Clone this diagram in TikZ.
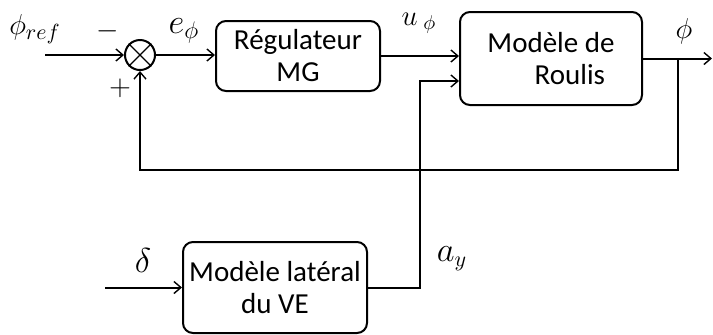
\documentclass[tikz,border=0pt]{standalone}
\usepackage{fontspec}
\setmainfont{Carlito}
\usetikzlibrary{arrows.meta}
\begin{document}
\begin{tikzpicture}[x=0.5pt,y=-0.5pt,
  line width=1pt,
  arr/.style={-{Straight Barb[length=3.5pt,width=6pt,line width=0.7pt]}},
  blk/.style={draw,rounded corners=5pt,align=center,inner sep=0pt,
    font=\fontsize{14.5}{16}\selectfont},
  lbl/.style={inner sep=0pt}]
\useasboundingbox (0,0) rectangle (713,334);
% blocks
\node[draw,circle,minimum size=15pt,inner sep=0pt] (sum) at (140,55) {};
\draw[line width=0.7pt] (sum.north west) -- (sum.south east) (sum.north east) -- (sum.south west);
\node[blk,minimum width=82pt,minimum height=35pt] (reg) at (298,56) {Régulateur\\MG};
\node[blk,minimum width=91pt,minimum height=46.5pt] (roul) at (551,58.5) {Modèle de\\\hspace*{1.3em}Roulis};
\node[blk,minimum width=92pt,minimum height=45.5pt] (lat) at (275,287.5) {Modèle latéral\\du VE};
% coordinates
\coordinate (in) at (45,55);
\coordinate (din) at (105,287.5);
\coordinate (out) at (712,58.5);
\coordinate (br) at (678,58.5);
\coordinate (fbr) at (678,170);
\coordinate (fbl) at (140,170);
\coordinate (ay) at (420,287.5);
\coordinate (ayt) at (420,81);
% connectors
\draw[arr] (in) -- (sum.west);
\draw[arr] (sum.east) -- (reg.west |- sum.east);
\draw[arr] (reg.east) -- (roul.west |- reg.east);
\draw[arr] (roul.east) -- (out);
\draw[arr] (br) -- (fbr) -- (fbl) -- (sum.south);
\draw[arr] (din) -- (lat.west);
\draw[arr] (lat.east) -- (ay) -- (ayt) -- (roul.west |- ayt);
% labels
\node[lbl,font=\fontsize{15}{15}\selectfont] (lref) at (35,29) {$\phi_{ref}$};
\node[lbl,font=\fontsize{14}{14}\selectfont] (lminus) at (108,31) {$-$};
\node[lbl,font=\fontsize{14}{14}\selectfont] (lplus) at (120,88) {$+$};
\node[lbl,font=\fontsize{16.5}{16.5}\selectfont] (le) at (184,31) {$e_{\phi}$};
\node[lbl,font=\fontsize{14}{14}\selectfont] (lu) at (419,23) {$u_{\;\phi}$};
\node[lbl,font=\fontsize{13.5}{13.5}\selectfont] (lphi) at (684,31) {$\phi$};
\node[lbl,font=\fontsize{17}{17}\selectfont] (ld) at (143,260) {$\delta$};
\node[lbl,font=\fontsize{16}{16}\selectfont] (la) at (452,259) {$a_{y}$};
\end{tikzpicture}
\end{document}
